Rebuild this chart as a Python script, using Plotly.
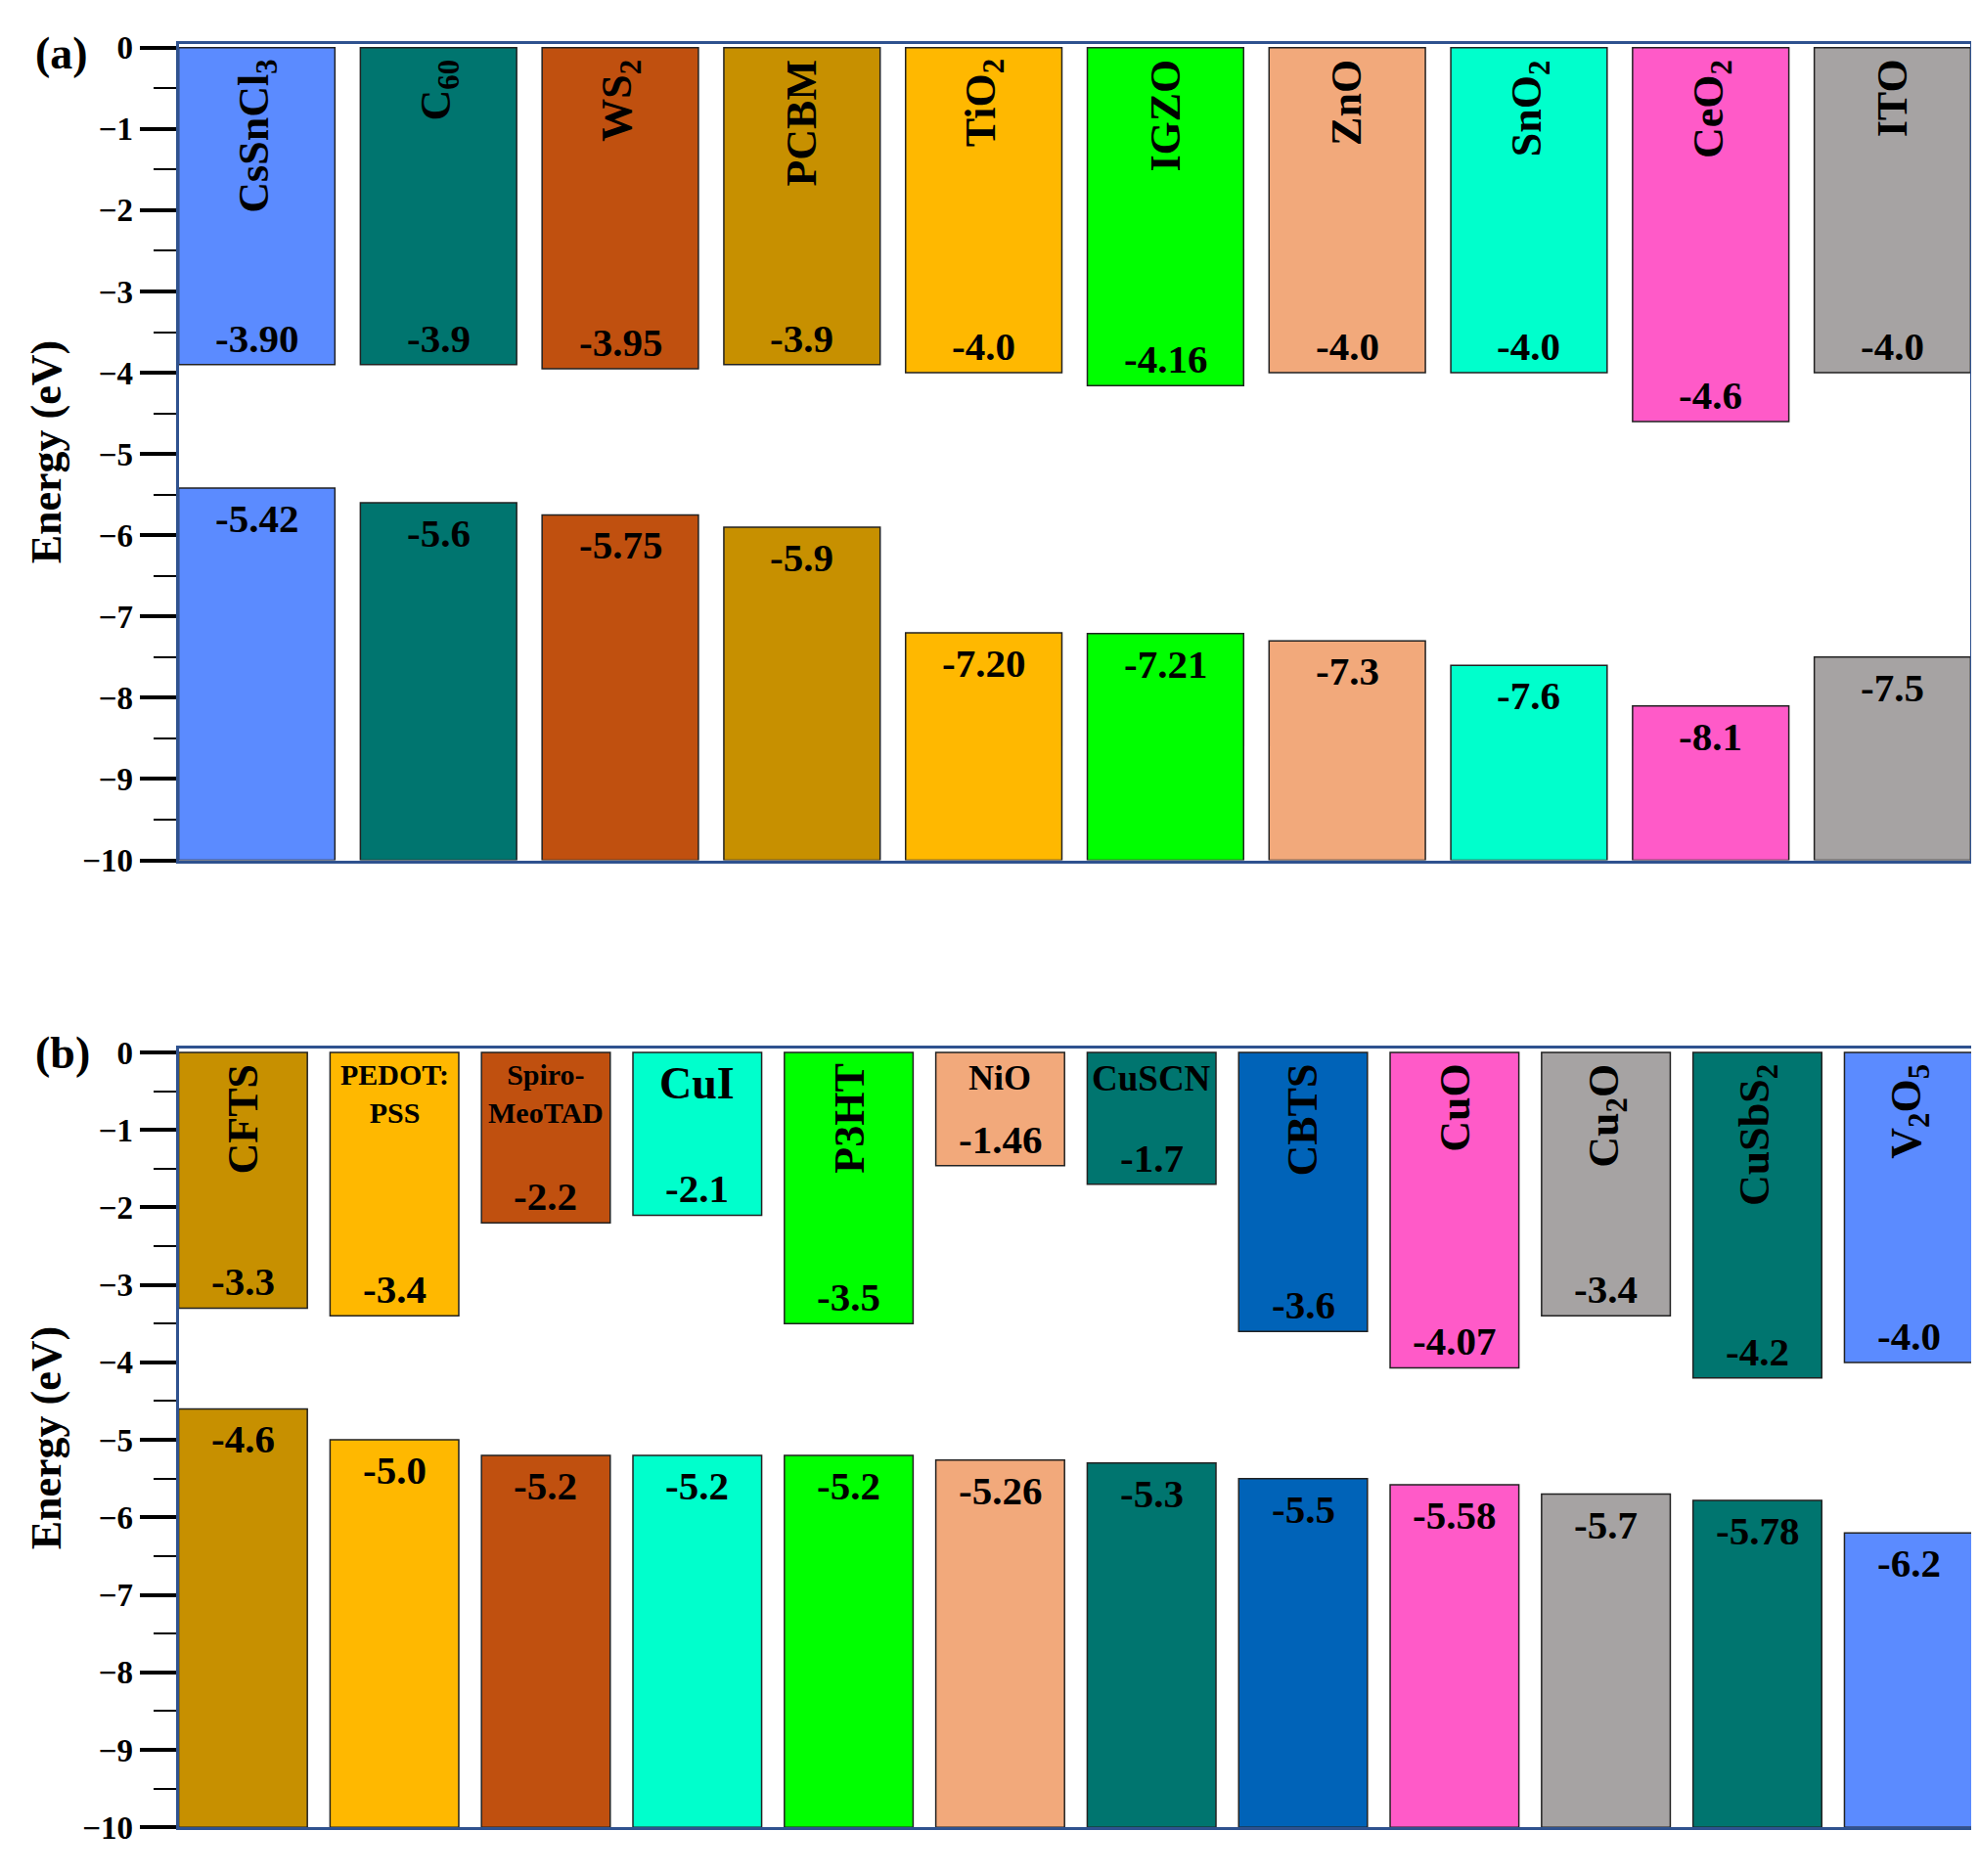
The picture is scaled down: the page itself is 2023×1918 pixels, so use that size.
import plotly.graph_objects as go

# ---- data: panel (a) electron transport layers ----
etl_names = ["CsSnCl<sub>3</sub>", "C<sub>60</sub>", "WS<sub>2</sub>", "PCBM", "TiO<sub>2</sub>",
             "IGZO", "ZnO", "SnO<sub>2</sub>", "CeO<sub>2</sub>", "ITO"]
etl_lumo = ["-3.90", "-3.9", "-3.95", "-3.9", "-4.0", "-4.16", "-4.0", "-4.0", "-4.6", "-4.0"]
etl_homo = ["-5.42", "-5.6", "-5.75", "-5.9", "-7.20", "-7.21", "-7.3", "-7.6", "-8.1", "-7.5"]
etl_colors = ["#5B8BFF", "#00756F", "#C0500F", "#C79000", "#FFB800",
              "#00FF00", "#F2A97B", "#00FFCC", "#FF5AC8", "#A6A3A3"]

# ---- data: panel (b) hole transport layers ----
htl_names = ["CFTS", "PEDOT:<br>PSS", "Spiro-<br>MeoTAD", "CuI", "P3HT", "NiO", "CuSCN",
             "CBTS", "CuO", "Cu<sub>2</sub>O", "CuSbS<sub>2</sub>", "V<sub>2</sub>O<sub>5</sub>"]
htl_lumo = ["-3.3", "-3.4", "-2.2", "-2.1", "-3.5", "-1.46", "-1.7", "-3.6", "-4.07", "-3.4", "-4.2", "-4.0"]
htl_homo = ["-4.6", "-5.0", "-5.2", "-5.2", "-5.2", "-5.26", "-5.3", "-5.5", "-5.58", "-5.7", "-5.78", "-6.2"]
htl_colors = ["#C79000", "#FFB800", "#C0500F", "#00FFCC", "#00FF00", "#F2A97B", "#00756F",
              "#0063B8", "#FF5AC8", "#A6A3A3", "#00756F", "#5B8BFF"]
# names written horizontally (others are rotated) and their font size
htl_flat = {"PEDOT:<br>PSS": 30, "Spiro-<br>MeoTAD": 30, "CuI": 46, "NiO": 36, "CuSCN": 37}

FONT = "Liberation Serif, Times New Roman, serif"
AXIS_BLUE = "#2F528F"
BOTTOM = -10

fig = go.Figure()
annotations = []


def add_panel(names, lumo, homo, colors, width, xa, ya, flat=None):
    flat = flat or {}
    lumo_v = [float(v) for v in lumo]
    homo_v = [float(v) for v in homo]
    line = dict(color="#222222", width=1.5)
    # conduction band side: from 0 down to LUMO
    fig.add_trace(go.Bar(x=names, y=lumo_v, base=0, width=width, marker_color=colors,
                         marker_line=line, xaxis=xa, yaxis=ya, hoverinfo="skip"))
    # valence band side: from -10 up to HOMO
    fig.add_trace(go.Bar(x=names, y=[h - BOTTOM for h in homo_v], base=BOTTOM, width=width,
                         marker_color=colors, marker_line=line, xaxis=xa, yaxis=ya,
                         hoverinfo="skip"))
    for n, lt, lv, ht, hv in zip(names, lumo, lumo_v, homo, homo_v):
        annotations.append(dict(x=n, y=lv, xref=xa, yref=ya, text=lt, showarrow=False,
                                yanchor="bottom", yshift=2,
                                font=dict(family=FONT, size=41, color="black", weight="bold")))
        annotations.append(dict(x=n, y=hv, xref=xa, yref=ya, text=ht, showarrow=False,
                                yanchor="top", yshift=-6,
                                font=dict(family=FONT, size=41, color="black", weight="bold")))
        if n in flat:
            annotations.append(dict(x=n, y=0, xref=xa, yref=ya, text=n, showarrow=False,
                                    yanchor="top", yshift=-4,
                                    font=dict(family=FONT, size=flat[n], color="black",
                                              weight="bold")))
        else:
            annotations.append(dict(x=n, y=0, xref=xa, yref=ya, text=n, showarrow=False,
                                    textangle=-90, yanchor="top", yshift=-10,
                                    font=dict(family=FONT, size=44, color="black",
                                              weight="bold")))


add_panel(etl_names, etl_lumo, etl_homo, etl_colors, 0.86, "x", "y")
add_panel(htl_names, htl_lumo, htl_homo, htl_colors, 0.85, "x2", "y2", htl_flat)

yax = dict(range=[-10, 0.05], tickvals=list(range(-10, 1)), ticks="outside", ticklen=37,
           tickwidth=4, tickcolor="black",
           minor=dict(dtick=0.5, tick0=0, ticks="outside", ticklen=23, tickwidth=2,
                      tickcolor="black"),
           tickfont=dict(family=FONT, size=33, color="black", weight="bold"),
           title=dict(text="Energy (eV)", standoff=8,
                      font=dict(family=FONT, size=44, color="black", weight="bold")),
           showline=True, linecolor=AXIS_BLUE, linewidth=3, mirror=True,
           showgrid=False, zeroline=False)
xax = dict(showticklabels=False, ticks="", showline=True, linecolor=AXIS_BLUE, linewidth=3,
           mirror=True, showgrid=False, zeroline=False)

for text, y in [("(a)", 0.982), ("(b)", 0.4406)]:
    annotations.append(dict(x=0.0129, y=y, xref="paper", yref="paper", text=text,
                            showarrow=False, xanchor="left", yanchor="middle",
                            font=dict(family=FONT, size=46, color="black", weight="bold")))

fig.update_layout(
    width=2023, height=1918,
    margin=dict(l=0, r=0, t=0, b=0),
    paper_bgcolor="white", plot_bgcolor="white",
    barmode="overlay", showlegend=False,
    xaxis=dict(xax, domain=[0.0863, 0.9918], range=[-0.43, 9.43]),
    yaxis=dict(yax, domain=[0.5448, 0.9875], anchor="x"),
    xaxis2=dict(xax, domain=[0.0863, 0.9931], range=[-0.425, 11.425], anchor="y2"),
    yaxis2=dict(yax, domain=[0.0206, 0.4427], anchor="x2"),
    annotations=annotations,
)

fig.write_html("out.html")
